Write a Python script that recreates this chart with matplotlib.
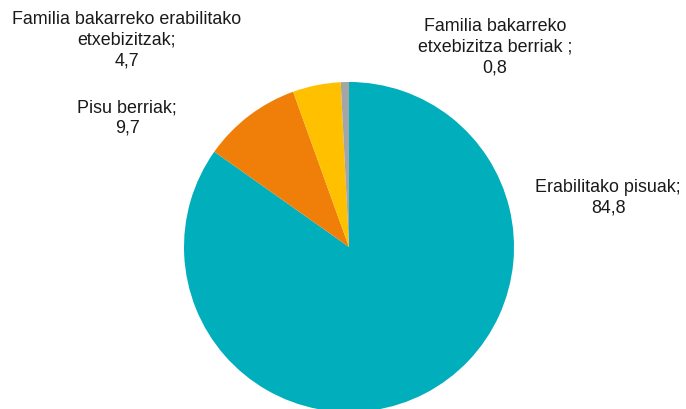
import matplotlib
matplotlib.use("Agg")
import matplotlib.pyplot as plt

categories = ["Erabilitako pisuak", "Pisu berriak",
              "Familia bakarreko erabilitako\netxebizitzak",
              "Familia bakarreko\netxebizitza berriak "]
values = [84.8, 9.7, 4.7, 0.8]
colors = ["#00AEBC", "#F07F09", "#FFC000", "#A5A5A5"]
# label centers in pixel coords (x, y from top)
label_pos = [(608, 198), (127, 118), (127, 40), (495, 47)]

W, H = 686, 409
fig = plt.figure(figsize=(W / 100, H / 100), dpi=100)
plt.rcParams['font.family'] = ['Liberation Sans', 'DejaVu Sans']
cx, cy, r = 349, 247, 165
ax = fig.add_axes([(cx - r) / W, (H - cy - r) / H, 2 * r / W, 2 * r / H])
ax.pie(values, colors=colors, startangle=90, counterclock=False,
       radius=1, wedgeprops=dict(linewidth=0))
ax.set_xlim(-1, 1)
ax.set_ylim(-1, 1)
ax.set_aspect('equal')
ax.axis('off')

for cat, val, (px, py) in zip(categories, values, label_pos):
    txt = f"{cat};\n{str(val).replace('.', ',')}"
    fig.text(px / W, 1 - py / H, txt, ha='center', va='center',
             fontsize=12.9, color='#1a1a1a', linespacing=1.3)

fig.savefig("out.png", dpi=100)
